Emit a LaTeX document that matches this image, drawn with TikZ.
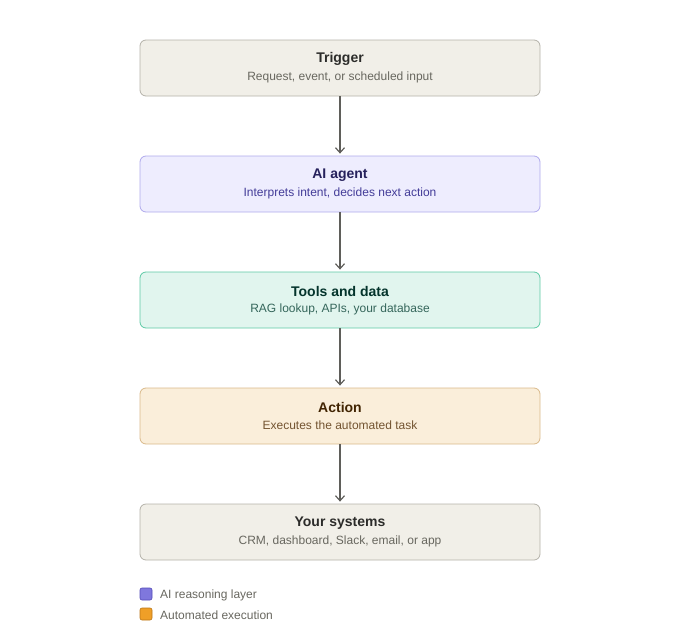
\documentclass[tikz,border=0pt]{standalone}
\usepackage{fontspec}
\setmainfont{Liberation Sans}
\usetikzlibrary{arrows.meta}

\definecolor{grayfill}{HTML}{F1EFE8}
\definecolor{graydraw}{HTML}{B4B2A9}
\definecolor{graytitle}{HTML}{2C2C2A}
\definecolor{graysub}{HTML}{68675F}
\definecolor{purplefill}{HTML}{EEEDFE}
\definecolor{purpledraw}{HTML}{AFA9EC}
\definecolor{purpletitle}{HTML}{26215C}
\definecolor{purplesub}{HTML}{433C98}
\definecolor{tealfill}{HTML}{E1F5EE}
\definecolor{tealdraw}{HTML}{5DCAA5}
\definecolor{tealtitle}{HTML}{04342C}
\definecolor{tealsub}{HTML}{35665B}
\definecolor{amberfill}{HTML}{FAEEDA}
\definecolor{amberdraw}{HTML}{D9B98A}
\definecolor{ambertitle}{HTML}{412402}
\definecolor{ambersub}{HTML}{735431}
\definecolor{arrowgray}{HTML}{5F5E5A}
\definecolor{legpurple}{HTML}{7F77DD}
\definecolor{legpurpled}{HTML}{534AB7}
\definecolor{legamber}{HTML}{EF9F27}
\definecolor{legamberd}{HTML}{BA7517}

\begin{document}
\begin{tikzpicture}[x=1pt,y=-1pt]
\tikzstyle{every node}+=[inner sep=0pt]
\tikzstyle{stage}=[rectangle, rounded corners=6pt, line width=0.8pt,
  minimum width=400pt, minimum height=56pt]
\tikzstyle{title}=[font=\fontsize{14}{16}\selectfont\bfseries]
\tikzstyle{sub}=[font=\fontsize{12}{15}\selectfont]
\tikzstyle{flow}=[draw=arrowgray, line width=1.2pt,
  -{Straight Barb[length=5pt,width=9pt,line width=1.2pt]}]
\tikzstyle{key}=[rectangle, rounded corners=2pt, line width=0.6pt,
  minimum width=12pt, minimum height=12pt]
\useasboundingbox (0,0) rectangle (680,640);
% stages
\node [stage, fill=grayfill, draw=graydraw] (trigger) at (340,68) {};
\node [title, text=graytitle] (trigger-t) at (340,59) {Trigger};
\node [sub, text=graysub] (trigger-s) at (340,77) {Request, event, or scheduled input};
\node [stage, fill=purplefill, draw=purpledraw] (agent) at (340,184) {};
\node [title, text=purpletitle] (agent-t) at (340,175) {AI agent};
\node [sub, text=purplesub] (agent-s) at (340,193) {Interprets intent, decides next action};
\node [stage, fill=tealfill, draw=tealdraw] (tools) at (340,300) {};
\node [title, text=tealtitle] (tools-t) at (340,291) {Tools and data};
\node [sub, text=tealsub] (tools-s) at (340,309) {RAG lookup, APIs, your database};
\node [stage, fill=amberfill, draw=amberdraw] (action) at (340,416) {};
\node [title, text=ambertitle] (action-t) at (340,407) {Action};
\node [sub, text=ambersub] (action-s) at (340,425) {Executes the automated task};
\node [stage, fill=grayfill, draw=graydraw] (systems) at (340,532) {};
\node [title, text=graytitle] (systems-t) at (340,523) {Your systems};
\node [sub, text=graysub] (systems-s) at (340,541) {CRM, dashboard, Slack, email, or app};
% arrows
\draw [flow] (trigger.south) -- ([yshift=2pt]agent.north);
\draw [flow] (agent.south) -- ([yshift=2pt]tools.north);
\draw [flow] (tools.south) -- ([yshift=2pt]action.north);
\draw [flow] (action.south) -- ([yshift=2pt]systems.north);
% legend
\node [key, fill=legpurple, draw=legpurpled] (key-ai) at (146,594) {};
\node [sub, text=graysub, anchor=west] (key-ai-t) at (160,595) {AI reasoning layer};
\node [key, fill=legamber, draw=legamberd] (key-auto) at (146,614) {};
\node [sub, text=graysub, anchor=west] (key-auto-t) at (160,615) {Automated execution};
\end{tikzpicture}
\end{document}
